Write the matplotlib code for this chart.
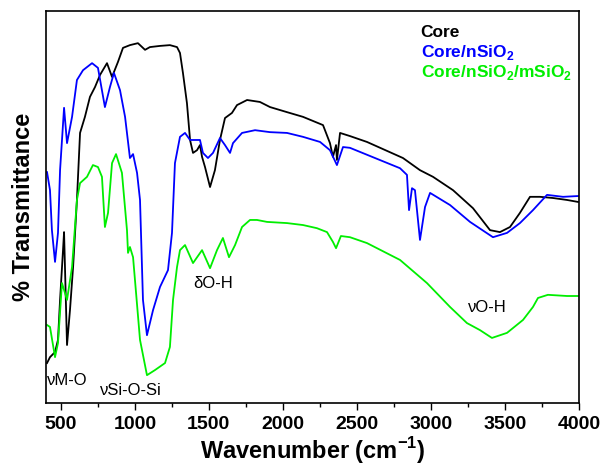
import matplotlib
matplotlib.use("Agg")
import matplotlib.pyplot as plt
from matplotlib.ticker import MultipleLocator

plt.rcParams["font.family"] = ["Liberation Sans", "DejaVu Sans"]
plt.rcParams["mathtext.fontset"] = "custom"
plt.rcParams["mathtext.rm"] = "Liberation Sans"
plt.rcParams["mathtext.bf"] = "Liberation Sans:bold"

# --- Spectra (wavenumber [cm^-1], %T arbitrary units) ---
core_wn = [407, 427, 461, 481, 495, 515, 522, 542, 562, 583, 609, 630, 663, 697, 731,
           765, 812, 846, 886, 920, 967, 1021, 1069, 1102, 1170, 1237, 1285, 1305, 1325,
           1352, 1373, 1393, 1420, 1440, 1454, 1474, 1508, 1541, 1575, 1609, 1656, 1690,
           1758, 1845, 1913, 2028, 2136, 2271, 2318, 2338, 2359, 2365, 2386, 2453, 2568,
           2811, 2926, 3014, 3149, 3284, 3399, 3466, 3534, 3601, 3669, 3737, 3824, 3919, 3993]
core_t = [10.2, 11.7, 13.0, 16.1, 26.3, 39.0, 43.6, 14.8, 23.7, 34.7, 51.8, 68.9, 73.0, 78.1, 80.6,
          83.7, 86.7, 83.2, 87.0, 90.6, 91.3, 91.8, 90.1, 90.8, 91.1, 91.3, 90.8, 89.3, 84.2,
          76.5, 67.1, 63.8, 64.5, 65.8, 62.8, 60.2, 55.1, 59.4, 67.1, 72.7, 74.0, 76.0,
          77.3, 76.8, 75.5, 74.2, 73.0, 70.9, 66.3, 62.8, 65.8, 62.0, 68.9, 68.1, 66.6,
          62.5, 59.4, 57.7, 54.3, 49.7, 44.1, 43.6, 44.9, 48.5, 52.6, 52.6, 52.3, 51.8, 51.3]

nsio2_wn = [407, 427, 440, 461, 481, 495, 522, 542, 576, 609, 650, 711, 751, 798, 832,
            859, 900, 934, 967, 988, 1015, 1035, 1055, 1082, 1123, 1170, 1224, 1251, 1271,
            1305, 1339, 1373, 1406, 1440, 1460, 1494, 1528, 1575, 1609, 1643, 1663, 1724,
            1812, 1913, 2028, 2136, 2251, 2318, 2365, 2406, 2453, 2791, 2838, 2852, 2872,
            2892, 2926, 2960, 2994, 3129, 3264, 3419, 3514, 3601, 3689, 3784, 3892, 3993]
nsio2_t = [58.9, 54.3, 44.1, 36.0, 43.4, 59.4, 75.3, 66.3, 73.0, 82.4, 84.9, 86.7, 85.5, 75.5, 80.6,
           84.2, 79.8, 73.0, 62.5, 63.5, 58.7, 51.8, 26.3, 17.3, 23.7, 29.6, 33.9, 43.4, 61.2,
           67.9, 68.9, 67.1, 67.1, 67.1, 63.8, 62.5, 63.8, 67.6, 65.8, 63.8, 66.3, 68.9,
           69.6, 69.1, 68.9, 67.9, 66.6, 64.5, 60.7, 65.3, 65.1, 59.9, 58.2, 49.2, 54.8,
           54.3, 41.6, 50.0, 53.6, 50.5, 46.2, 42.3, 43.4, 45.9, 49.2, 53.1, 52.6, 52.8]

msio2_wn = [407, 427, 461, 481, 508, 542, 576, 609, 630, 677, 717, 751, 778, 798, 819,
            846, 873, 913, 947, 954, 967, 988, 1035, 1082, 1136, 1204, 1237, 1258, 1285,
            1305, 1339, 1393, 1454, 1508, 1555, 1595, 1636, 1677, 1724, 1778, 1825, 1893,
            2028, 2136, 2230, 2298, 2338, 2359, 2392, 2453, 2568, 2791, 2973, 3129, 3243,
            3331, 3412, 3514, 3622, 3689, 3723, 3790, 3919, 3993]
msio2_t = [19.9, 19.4, 11.7, 15.3, 30.6, 26.3, 34.7, 51.8, 56.1, 57.7, 60.7, 60.2, 57.7, 44.9, 48.5,
           61.2, 63.5, 58.7, 44.1, 38.3, 39.8, 37.2, 16.1, 7.1, 8.4, 10.2, 14.3, 26.3, 34.7,
           39.0, 40.3, 35.7, 39.0, 34.4, 39.0, 42.1, 37.2, 40.3, 44.9, 46.7, 46.7, 46.2,
           45.9, 45.4, 44.6, 43.6, 41.1, 39.5, 42.6, 42.3, 40.8, 36.5, 30.6, 24.5, 20.4,
           18.6, 16.6, 17.9, 21.2, 24.5, 26.8, 27.6, 27.3, 27.3]

series = [
    ("Core", core_wn, core_t, "black"),
    (r"Core/nSiO$_\mathbf{2}$", nsio2_wn, nsio2_t, "#0000ff"),
    (r"Core/nSiO$_\mathbf{2}$/mSiO$_\mathbf{2}$", msio2_wn, msio2_t, "#00ee00"),
]

fig = plt.figure(figsize=(6.02, 4.69), dpi=100)
ax = fig.add_axes([0.0764, 0.1407, 0.8854, 0.8358])

for name, wn, t, col in series:
    ax.plot(wn, t, color=col, lw=1.3)

ax.set_xlim(400, 4000)
ax.set_ylim(0, 100)
ax.xaxis.set_major_locator(MultipleLocator(500))
ax.xaxis.set_minor_locator(MultipleLocator(250))
ax.set_yticks([])
ax.tick_params(axis="x", which="major", direction="out", length=5, width=1,
               labelsize=14, pad=4)
ax.tick_params(axis="x", which="minor", direction="out", length=3, width=1)
for lbl in ax.get_xticklabels():
    lbl.set_fontweight("bold")
for sp in ax.spines.values():
    sp.set_linewidth(1.2)

ax.set_xlabel(r"Wavenumber (cm$^\mathbf{-1}$)", fontsize=17, fontweight="bold", labelpad=2)
ax.set_ylabel("% Transmittance", fontsize=17, fontweight="bold", labelpad=8)

# legend as coloured text lines
legend_y = [0.944, 0.895, 0.844]
for (name, wn, t, col), yy in zip(series, legend_y):
    ax.text(0.703, yy, name, color=col, fontsize=12.5, fontweight="bold",
            transform=ax.transAxes, va="center", ha="left")

# band annotations
ax.text(405, 4.6, "νM-O", fontsize=12)
ax.text(765, 2.0, "νSi-O-Si", fontsize=12)
ax.text(1393, 29.3, "δO-H", fontsize=12)
ax.text(3250, 23.2, "νO-H", fontsize=12)

fig.savefig("out.png", dpi=100)
